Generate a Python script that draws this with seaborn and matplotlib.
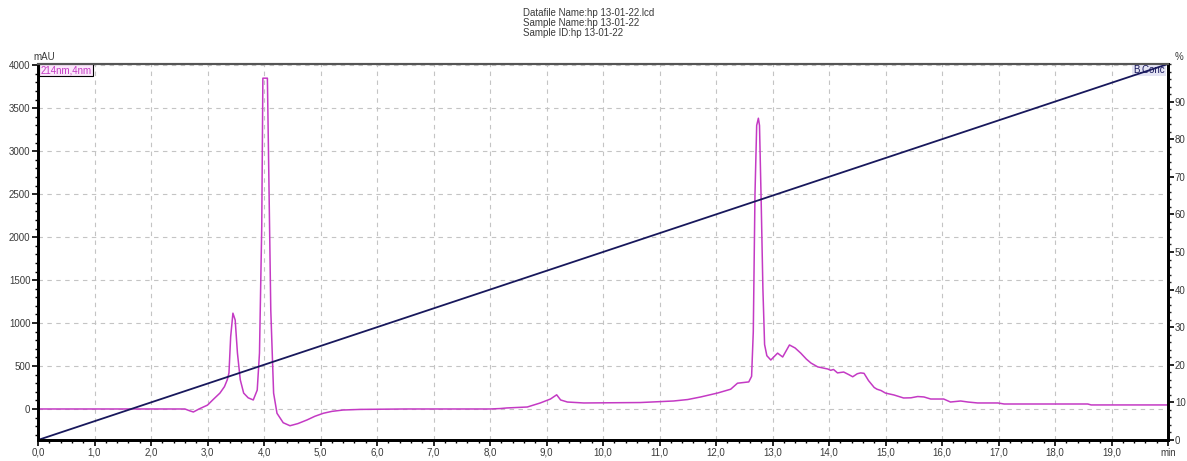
import matplotlib
matplotlib.use("Agg")
import matplotlib.pyplot as plt
import seaborn as sns
import pandas as pd
from matplotlib.ticker import MultipleLocator, FixedLocator, FixedFormatter

# Chromatogram trace, 214 nm detector channel
time_min = [0.0, 2.6, 2.68, 2.75, 2.85, 3.0, 3.1, 3.22, 3.3, 3.35, 3.38, 3.41,
            3.45, 3.49, 3.53, 3.58, 3.64, 3.72, 3.81, 3.88, 3.92, 3.96, 3.98,
            4.06, 4.09, 4.12, 4.17, 4.23, 4.34, 4.46, 4.6, 4.76, 4.9, 5.05,
            5.2, 5.4, 5.7, 6.5, 8.0, 8.18, 8.3, 8.66, 8.89, 9.07, 9.18, 9.25,
            9.37, 9.66, 10.66, 11.25, 11.5, 11.73, 12.03, 12.26, 12.38, 12.58,
            12.63, 12.66, 12.69, 12.72, 12.75, 12.77, 12.8, 12.83, 12.86,
            12.9, 12.97, 13.09, 13.18, 13.3, 13.4, 13.5, 13.6, 13.68, 13.8,
            13.98, 14.03, 14.08, 14.15, 14.26, 14.35, 14.42, 14.5, 14.56,
            14.62, 14.7, 14.8, 14.85, 14.92, 15.0, 15.15, 15.32, 15.45, 15.57,
            15.68, 15.8, 16.03, 16.15, 16.33, 16.46, 16.63, 16.99, 17.1,
            18.58, 18.64, 20.0]
absorbance_mau = [0, 0, -20, -35, 0, 45, 110, 185, 260, 340, 420, 840,
                  1115, 1035, 650, 340, 185, 130, 105, 220, 650, 2115, 3850,
                  3850, 2510, 1150, 185, -50, -160, -195, -170, -128, -85, -50,
                  -28, -12, -5, 0, 0, 5, 12, 23, 70, 116, 165, 105,
                  81, 70, 75, 93, 110, 140, 186, 230, 300, 315,
                  380, 900, 2500, 3300, 3384, 3300, 2400, 1400, 750,
                  620, 570, 650, 605, 745, 710, 650, 580, 535, 490,
                  465, 450, 460, 420, 430, 400, 375, 410, 420,
                  415, 330, 250, 230, 215, 185, 163, 128, 130, 145,
                  140, 116, 116, 81, 93, 81, 70, 70, 58,
                  58, 47, 47]

# Solvent B gradient program
gradient_time = [0.0, 20.0]
b_conc_pct = [0.0, 100.0]

x_tick_labels = [f"{i},0" for i in range(20)] + ["min"]
header_lines = ["Datafile Name:hp 13-01-22.lcd",
                "Sample Name:hp 13-01-22",
                "Sample ID:hp 13-01-22"]

trace = pd.DataFrame({"time": time_min, "mAU": absorbance_mau})
grad = pd.DataFrame({"time": gradient_time, "pct": b_conc_pct})

sns.set_style("white")
plt.rcParams['font.family'] = ['Liberation Sans', 'DejaVu Sans']

W, H = 1187, 461
fig = plt.figure(figsize=(W / 100, H / 100), dpi=100)
ax = fig.add_axes([38 / W, 21 / H, 1130 / W, 376 / H])

trace_color = "#c43ac4"
conc_color = "#18185c"
label_color = "#3a3a3a"

sns.lineplot(data=trace, x="time", y="mAU", ax=ax, color=trace_color,
             lw=1.1, sort=False, estimator=None)
ax.set_xlim(0, 20)
ax.set_ylim(-361, 4015)

ax.xaxis.set_major_locator(FixedLocator(list(range(21))))
ax.xaxis.set_major_formatter(FixedFormatter(x_tick_labels))
ax.xaxis.set_minor_locator(MultipleLocator(0.2))
ax.yaxis.set_major_locator(MultipleLocator(500))
ax.yaxis.set_minor_locator(MultipleLocator(100))
ax.set_xlabel("")
ax.set_ylabel("")
ax.grid(True, which="major", ls=(0, (4, 4)), color="#c4c4c4", lw=0.8)

ax2 = ax.twinx()
sns.lineplot(data=grad, x="time", y="pct", ax=ax2, color=conc_color, lw=1.3)
ax2.set_ylim(0, 100)
ax2.yaxis.set_major_locator(FixedLocator(list(range(0, 100, 10))))
ax2.yaxis.set_minor_locator(MultipleLocator(2))
ax2.set_ylabel("")
ax2.grid(False)

for a in (ax, ax2):
    for side in ("left", "bottom", "right"):
        a.spines[side].set_color("black")
        a.spines[side].set_linewidth(2.0)
    a.spines["top"].set_color("#555555")
    a.spines["top"].set_linewidth(1.5)

ax.tick_params(axis="both", which="major", direction="out", length=4,
               width=1.2, labelsize=7, colors="black", labelcolor=label_color,
               pad=1.5, left=True, bottom=True)
ax.tick_params(axis="both", which="minor", direction="out", length=2.5,
               width=1.0, colors="black", left=True, bottom=True)
ax2.tick_params(axis="y", which="major", direction="out", length=4, width=1.2,
                labelsize=7, colors="black", labelcolor=label_color, pad=1,
                right=True)
ax2.tick_params(axis="y", which="minor", direction="out", length=2.5,
                width=1.0, right=True)

# Axis unit captions
fig.text(33 / W, 1 - 57 / H, "mAU", fontsize=7, color=label_color,
         ha="left", va="center")
fig.text(1175 / W, 1 - 57 / H, "%", fontsize=7, color=label_color,
         ha="left", va="center")

# Channel labels
ax.text(0.002, 0.997, "214nm,4nm", transform=ax.transAxes, fontsize=7,
        color=trace_color, ha="left", va="top",
        bbox=dict(facecolor="#fbe8fb", edgecolor="black", lw=0.8, pad=1.0))
ax.text(0.997, 0.997, "B.Conc", transform=ax.transAxes, fontsize=7,
        color=conc_color, ha="right", va="top", zorder=5,
        bbox=dict(facecolor="#e4e4f4", edgecolor="none", pad=1.0))

# Header block
for i, line in enumerate(header_lines):
    fig.text(523 / W, 1 - (13 + 10 * i) / H, line, fontsize=7,
             color=label_color, ha="left", va="center")

fig.savefig("out.png", dpi=100, facecolor="white")
